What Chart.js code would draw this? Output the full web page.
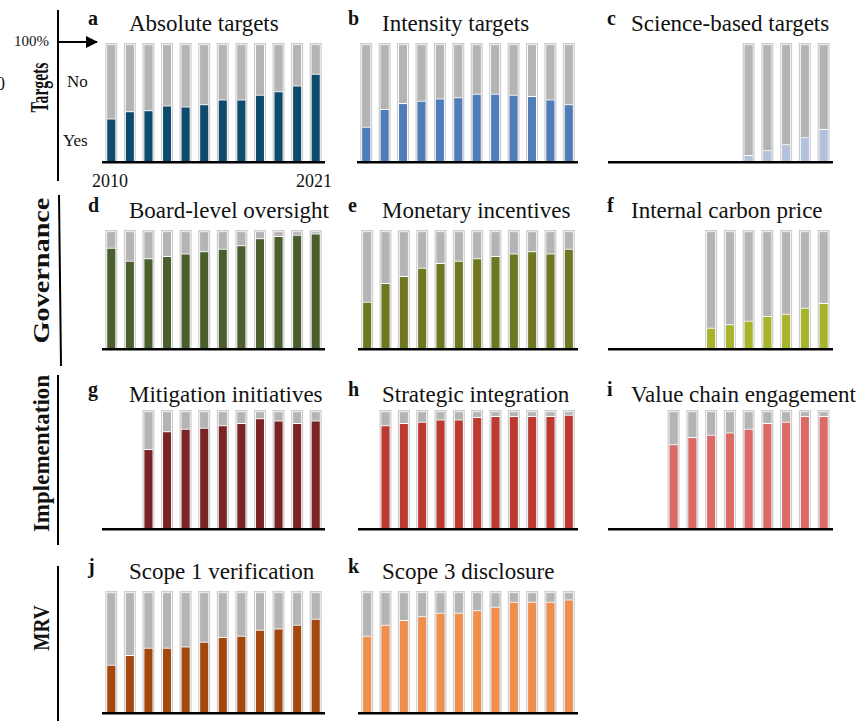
<!DOCTYPE html>
<html>
<head>
<meta charset="utf-8">
<script src="https://cdn.jsdelivr.net/npm/chart.js@4.4.1/dist/chart.umd.min.js"></script>
<style>
  html, body { margin: 0; padding: 0; background: #fff; }
  #wrap { position: relative; width: 861px; height: 721px; overflow: hidden; font-family: "Liberation Serif", "Times New Roman", serif; color: #111; }
  .panel { position: absolute; }
  .txt { position: absolute; white-space: nowrap; line-height: 1; }
  .side { position: absolute; white-space: nowrap; line-height: 1; font-weight: bold; }
  svg { position: absolute; left: 0; top: 0; }
</style>
</head>
<body>
<div id="wrap">
  <svg width="861" height="721">
    <defs>
      <marker id="head" markerWidth="12" markerHeight="12" refX="11" refY="6" orient="auto" markerUnits="userSpaceOnUse">
        <path d="M0,0 L12,6 L0,12 z" fill="#000"/>
      </marker>
    </defs>
    <line x1="58" y1="10" x2="58" y2="181" stroke="#000" stroke-width="2"/>
    <line x1="59" y1="195" x2="61" y2="366" stroke="#000" stroke-width="2"/>
    <line x1="58" y1="375" x2="58" y2="545" stroke="#000" stroke-width="2"/>
    <line x1="58" y1="566" x2="58" y2="721" stroke="#000" stroke-width="2"/>
    <line x1="58" y1="42" x2="97" y2="42" stroke="#000" stroke-width="2" marker-end="url(#head)"/>
  </svg>
</div>
<script>
// Years and share of companies answering "Yes" (%)
const years = ['2010', '2011', '2012', '2013', '2014', '2015', '2016', '2017', '2018', '2019', '2020', '2021'];

const absoluteYes = [37, 43, 44, 48, 47, 49, 53, 53, 57, 60, 65, 75];
const intensityYes = [30, 45, 50, 52, 54, 55, 58, 58, 57, 56, 53, 49];
const scienceYes = [null, null, null, null, null, null, null, 6, 10, 15, 21, 28];
const boardYes = [86, 75, 77, 79, 81, 83, 85, 88, 94, 96, 97, 98];
const monetaryYes = [40, 56, 62, 69, 73, 75, 77, 79, 81, 83, 81, 85];
const carbonPriceYes = [null, null, null, null, null, 18, 21, 24, 28, 30, 35, 39];
const mitigationYes = [null, null, 68, 83, 85, 86, 88, 90, 94, 92, 90, 92];
const strategicYes = [null, 88, 90, 91, 93, 93, 95, 96, 96, 96, 96, 97];
const valueChainYes = [null, null, null, 72, 78, 80, 82, 85, 90, 91, 96, 96];
const scope1Yes = [40, 48, 54, 54, 55, 59, 63, 64, 69, 70, 73, 78];
const scope3Yes = [64, 73, 77, 80, 83, 83, 85, 88, 92, 92, 92, 94];

const GRAY = '#b4b4b4';
const FRAME = '#cdcdcd';

// columns: panel letter x, title x
const cols = [
  { lx: 88, tx: 129 },
  { lx: 348, tx: 382 },
  { lx: 607, tx: 631 }
];

// panel layout: letter, title, data, colour, plot box
const panels = [
  { letter: 'a', title: 'Absolute targets', yes: absoluteYes, color: '#0c4a6e', col: 0, x0: 102, x1: 325, top: 43, bottom: 162, base: 31 },
  { letter: 'b', title: 'Intensity targets', yes: intensityYes, color: '#4f7dba', col: 1, x0: 357, x1: 578, top: 43, bottom: 162, base: 31 },
  { letter: 'c', title: 'Science-based targets', yes: scienceYes, color: '#b3c2dc', col: 2, x0: 608, x1: 833, top: 43, bottom: 162, base: 31 },
  { letter: 'd', title: 'Board-level oversight', yes: boardYes, color: '#4b5e2e', col: 0, x0: 102, x1: 325, top: 230, bottom: 349, base: 218 },
  { letter: 'e', title: 'Monetary incentives', yes: monetaryYes, color: '#6f7820', col: 1, x0: 358, x1: 578, top: 230, bottom: 349, base: 218 },
  { letter: 'f', title: 'Internal carbon price', yes: carbonPriceYes, color: '#a8b42b', col: 2, x0: 608, x1: 833, top: 230, bottom: 349, base: 218 },
  { letter: 'g', title: 'Mitigation initiatives', yes: mitigationYes, color: '#7a2425', col: 0, x0: 102, x1: 325, top: 410, bottom: 529, base: 402 },
  { letter: 'h', title: 'Strategic integration', yes: strategicYes, color: '#bd3a33', col: 1, x0: 358, x1: 578, top: 410, bottom: 529, base: 402 },
  { letter: 'i', title: 'Value chain engagement', yes: valueChainYes, color: '#dc6a67', col: 2, x0: 608, x1: 833, top: 410, bottom: 529, base: 402 },
  { letter: 'j', title: 'Scope 1 verification', yes: scope1Yes, color: '#a5480f', col: 0, x0: 102, x1: 325, top: 591, bottom: 713, base: 579 },
  { letter: 'k', title: 'Scope 3 disclosure', yes: scope3Yes, color: '#f08f4c', col: 1, x0: 358, x1: 578, top: 591, bottom: 713, base: 579 }
];

const wrap = document.getElementById('wrap');

// text placed by its baseline (line-height 1 puts baseline ~0.84em below top)
function addText(text, x, baseline, size, bold) {
  const el = document.createElement('div');
  el.className = 'txt';
  el.textContent = text;
  el.style.left = x + 'px';
  el.style.top = (baseline - 0.84 * size) + 'px';
  el.style.fontSize = size + 'px';
  if (bold) el.style.fontWeight = 'bold';
  wrap.appendChild(el);
  return el;
}

// rotated row label, stretched to the length it has in the figure
function addSide(text, cx, cy, length, size) {
  const el = document.createElement('div');
  el.className = 'side';
  el.textContent = text;
  el.style.fontSize = size + 'px';
  wrap.appendChild(el);
  const w = el.offsetWidth, h = el.offsetHeight;
  el.style.left = (cx - w / 2) + 'px';
  el.style.top = (cy - h / 2) + 'px';
  el.style.transform = `rotate(-90deg) scaleX(${length / w})`;
}

addSide('Targets', 40, 87, 50, 25);
addSide('Governance', 41, 270, 146, 23);
addSide('Implementation', 41, 453, 157, 23);
addSide('MRV', 41, 628, 45, 24);

addText('100%', 14, 47, 15);
addText('No', 67, 87, 17);
addText('Yes', 63, 146, 17);
addText('0', -4, 90, 18);
addText('2010', 92, 187, 18);
addText('2021', 296, 187, 18);

panels.forEach(p => {
  const c = cols[p.col];
  addText(p.letter, c.lx, p.base - 6, 20, true);
  addText(p.title, c.tx, p.base, 23);

  const box = document.createElement('div');
  box.className = 'panel';
  box.style.left = p.x0 + 'px';
  box.style.top = p.top + 'px';
  box.style.width = (p.x1 - p.x0) + 'px';
  box.style.height = (p.bottom - p.top + 3) + 'px';
  const canvas = document.createElement('canvas');
  box.appendChild(canvas);
  wrap.appendChild(box);

  const no = p.yes.map(v => v == null ? null : 100 - v);
  const frame = p.yes.map(v => v == null ? null : 101);

  // yes/no stacked; a slightly wider light frame sits behind each bar
  const seg = { borderColor: '#fff', borderWidth: 1, barThickness: 10, inflateAmount: 0, grouped: false, stack: 's', order: 1 };
  new Chart(canvas, {
    type: 'bar',
    data: {
      labels: years,
      datasets: [
        { ...seg, data: p.yes, backgroundColor: p.color },
        { ...seg, data: no, backgroundColor: GRAY },
        { data: frame, backgroundColor: FRAME, borderWidth: 0, barThickness: 12, inflateAmount: 0, grouped: false, stack: 'f', order: 2 }
      ]
    },
    options: {
      responsive: true,
      maintainAspectRatio: false,
      animation: false,
      layout: { padding: { top: 0, bottom: 3, left: 0, right: 0 } },
      plugins: { legend: { display: false }, tooltip: { enabled: false } },
      scales: {
        x: {
          stacked: true, offset: true,
          grid: { display: false, drawTicks: false },
          ticks: { display: false },
          // axis line drawn above the bars
          border: { display: true, color: '#000', width: 2.5, z: 1 }
        },
        y: { stacked: true, display: false, min: 0, max: 101 }
      }
    }
  });
});
</script>
</body>
</html>
